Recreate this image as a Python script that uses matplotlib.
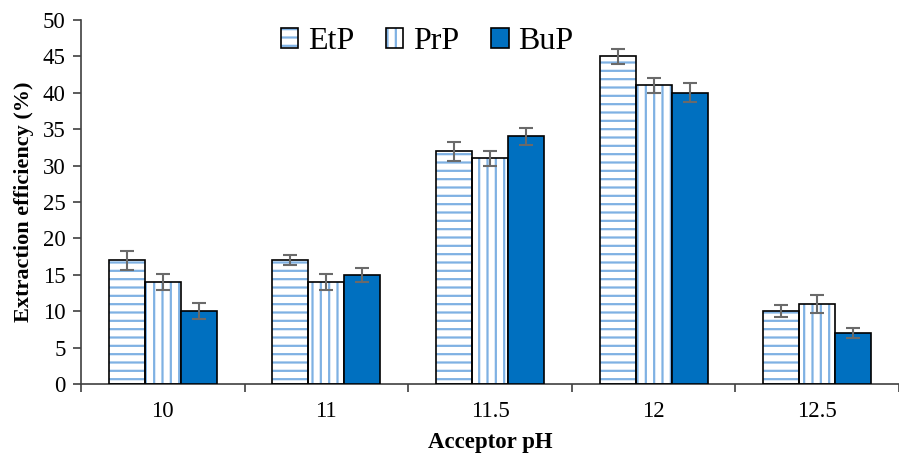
import matplotlib.pyplot as plt
import numpy as np
from matplotlib.patches import Patch

plt.rcParams['font.family'] = ['Liberation Serif', 'DejaVu Serif']
plt.rcParams['hatch.linewidth'] = 1.6

categories = ['10', '11', '11.5', '12', '12.5']
series = ['EtP', 'PrP', 'BuP']
etp = [17, 17, 32, 45, 10]
prp = [14, 14, 31, 41, 11]
bup = [10, 15, 34, 40, 7]
etp_err = [1.3, 0.7, 1.3, 1.0, 0.8]
prp_err = [1.1, 1.1, 1.0, 1.0, 1.3]
bup_err = [1.1, 1.0, 1.2, 1.3, 0.7]

values = [etp, prp, bup]
errors = [etp_err, prp_err, bup_err]
hatches = ['--', '||', None]
hatch_col = '#7fb1e3'
blue = '#0070c0'

fig = plt.figure(figsize=(8.99, 4.53), dpi=100)
ax = fig.add_axes([0.09, 0.152, 0.91, 0.804])

x = np.arange(len(categories))
w = 0.22
for i, (vals, errs, h) in enumerate(zip(values, errors, hatches)):
    pos = x + (i - 1) * w
    if h:
        ax.bar(pos, vals, w, color='white', edgecolor=hatch_col, hatch=h, linewidth=0, zorder=2)
        ax.bar(pos, vals, w, fill=False, edgecolor='black', linewidth=1.2, zorder=3)
    else:
        ax.bar(pos, vals, w, color=blue, edgecolor='black', linewidth=1.2, zorder=3)
    ax.errorbar(pos, vals, yerr=errs, fmt='none', ecolor='#6a6a6a', elinewidth=1.5,
                capsize=5, capthick=1.5, zorder=4)

# legend: hatch patch under a black outline
outline = Patch(fill=False, edgecolor='black', linewidth=1.2)
proxies = [(Patch(facecolor='white', edgecolor=hatch_col, hatch='--', linewidth=0), outline),
           (Patch(facecolor='white', edgecolor=hatch_col, hatch='||', linewidth=0), outline),
           Patch(facecolor=blue, edgecolor='black', linewidth=1.2)]
ax.legend(proxies, series, loc='center', bbox_to_anchor=(0.423, 0.94), ncol=3,
          frameon=False, fontsize=23, handlelength=0.55, handleheight=0.55,
          handletextpad=0.3, columnspacing=1.0)

ax.set_ylim(0, 50)
ax.set_yticks(range(0, 51, 5))
ax.set_xlim(-0.5, 4.44)
ax.set_xticks(x)
ax.set_xticklabels(categories)
ax.set_xticks(np.arange(-0.5, 4.6, 1), minor=True)
ax.tick_params(axis='x', which='major', length=0, pad=12, labelsize=16.5)
ax.tick_params(axis='x', which='minor', length=6, width=1.2, direction='out', color='#404040')
ax.tick_params(axis='y', length=6, width=1.2, direction='out', labelsize=16.5, color='#404040', pad=5)

for s in ['top', 'right']:
    ax.spines[s].set_visible(False)
for s in ['left', 'bottom']:
    ax.spines[s].set_color('#404040')
    ax.spines[s].set_linewidth(1.2)

ax.set_ylabel('Extraction efficiency (%)', fontsize=16, fontweight='bold', labelpad=6)
ax.set_xlabel('Acceptor pH', fontsize=16.5, fontweight='bold', labelpad=7)

fig.savefig('out.png', dpi=100)
